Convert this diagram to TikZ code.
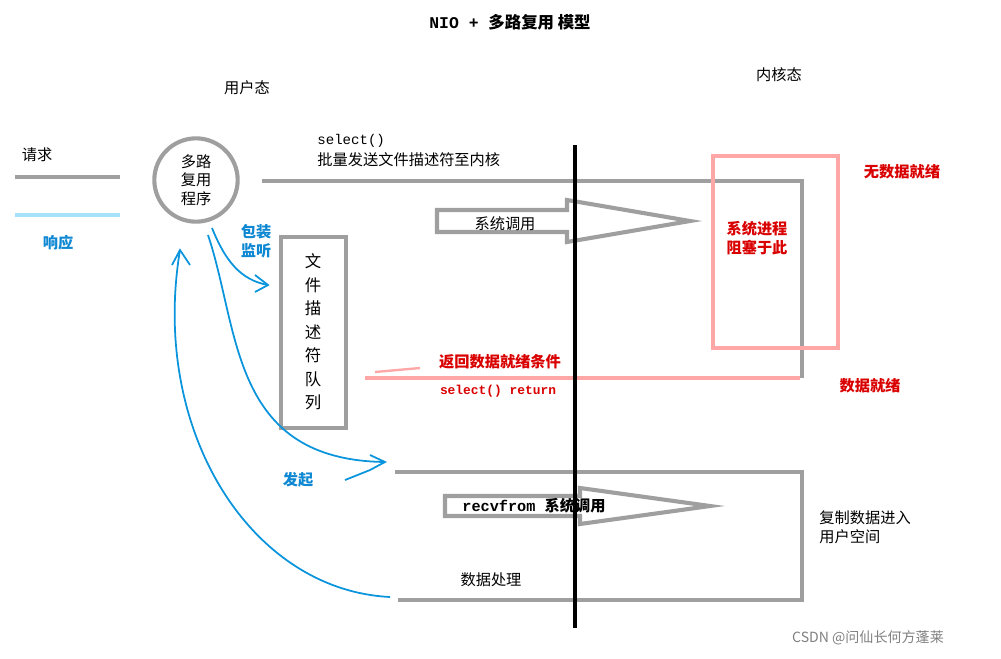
\documentclass[tikz,border=0pt]{standalone}
\usepackage{fontspec}
\setmainfont{Noto Sans CJK SC}
\setmonofont{Liberation Mono}
\begin{document}
\begin{tikzpicture}[x=0.03cm,y=-0.03cm,
 gl/.style={draw=gray!75,line width=3.5pt},
 pk/.style={draw=red!35,line width=3pt},
 cy/.style={draw=cyan!80!blue,line width=1.5pt},
 lb/.style={font=\fontsize{13}{16}\selectfont,inner sep=1pt},
 rd/.style={lb,text=red!85!black,font=\bfseries\fontsize{13}{16}\selectfont},
 cl/.style={lb,text=cyan!70!blue,font=\bfseries\fontsize{13}{16}\selectfont}]
\useasboundingbox (0,0) rectangle (1001,658);
\node[lb,font=\ttfamily\bfseries\fontsize{14}{16}\selectfont] (t) at (510,22) {NIO + \rmfamily 多路复用 模型};
\node[lb] (u) at (247,88) {用户态};
\node[lb] (k) at (779,75) {内核态};
\node[lb] (rq) at (37,155) {请求};
\draw[gl] (15,177) -- (120,177);
\draw[draw=cyan!35,line width=3.5pt] (15,215) -- (120,215);
\node[cl] (rs) at (58,243) {响应};
\node[gl,circle,minimum size=2.5cm,align=center,lb] (c) at (196,180) {多路\\复用\\程序};
\node[lb,font=\ttfamily\fontsize{12}{14}\selectfont,anchor=west] (s1) at (316,141) {select()};
\node[lb,anchor=west] (s2) at (316,160) {批量发送文件描述符至内核};
\draw[gl] (262,181) -- (802,181) -- (802,378);
\draw[gl] (437,210) -- (567,210) -- (567,200) -- (690,221) -- (567,242) -- (567,232) -- (437,232) -- cycle;
\node[lb] (sc) at (505,224) {系统调用};
\draw[pk] (713,156) rectangle (838,348);
\node[rd,align=center] (blk) at (757,238) {系统进程\\阻塞于此};
\node[rd] (nd) at (902,172) {无数据就绪};
\node[rd] (dr) at (870,386) {数据就绪};
\draw[pk] (365,378) -- (800,378);
\draw[pk,line width=2pt] (375,372) -- (420,368);
\node[rd] (ret) at (500,362) {返回数据就绪条件};
\node[rd,font=\ttfamily\bfseries\fontsize{11}{13}\selectfont] (sr) at (498,391) {select() return};
\draw[gl] (281,237) rectangle (346,428);
\node[lb,align=center,font=\fontsize{14}{20}\selectfont] (q) at (313,332) {文\\件\\描\\述\\符\\队\\列};
\draw[gl] (395,472) -- (802,472) -- (802,600) -- (398,600);
\draw[gl] (445,496) -- (580,496) -- (580,488) -- (710,506) -- (580,524) -- (580,516) -- (445,516) -- cycle;
\node[lb] (rf) at (534,506) {\ttfamily\bfseries recvfrom \rmfamily 系统调用};
\node[lb,align=left,anchor=west] (cp) at (818,527) {复制数据进入\\用户空间};
\node[lb] (dp) at (491,580) {数据处理};
\draw[line width=4pt] (575,145) -- (575,628);
\draw[cy] (212,228) .. controls (225,260) and (240,280) .. (268,285);
\draw[cy] (255,275) -- (268,285) -- (255,292);
\node[cl,align=center] (bz) at (256,241) {包装\\监听};
\draw[cy] (208,235) .. controls (240,330) and (230,460) .. (385,462);
\draw[cy] (370,455) -- (385,462) -- (370,470) -- (345,480);
\node[cl] (fq) at (298,480) {发起};
\draw[cy] (390,597) .. controls (250,590) and (150,430) .. (180,250);
\draw[cy] (172,265) -- (180,250) -- (190,265);
\node[lb,text=gray,font=\fontsize{12}{14}\selectfont] (wm) at (868,638) {CSDN @问仙长何方蓬莱};
\end{tikzpicture}
\end{document}
